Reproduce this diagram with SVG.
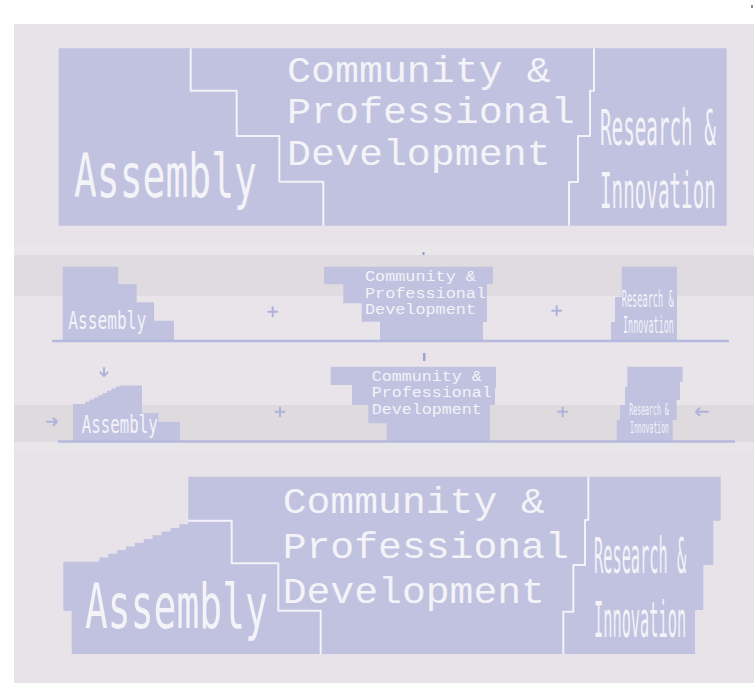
<svg xmlns="http://www.w3.org/2000/svg" width="754" height="683" viewBox="0 0 754 683">
  <style>
    .blk { fill: #c0c2e0; }
    .div { fill: none; stroke: #f3f2f8; stroke-width: 2; stroke-linejoin: round; }
    .nar { font-family: "DejaVu Sans Mono", monospace; fill: #f3f3f8; }
    .mono { font-family: "Liberation Mono", "DejaVu Sans Mono", monospace; fill: #f3f3f8; }
    .base { stroke: #b6b9df; stroke-width: 2.5; }
    .sym { fill: none; stroke: #aeb2dc; stroke-width: 2; stroke-linecap: round; stroke-linejoin: round; }
  </style>

  <!-- page and backdrop -->
  <rect x="0" y="0" width="754" height="683" fill="#ffffff"/>
  <rect x="14" y="24" width="740" height="659" fill="#e7e3e8"/>
  <rect x="14" y="245" width="740" height="10" fill="#eae7eb"/>
  <rect x="14" y="255" width="740" height="41" fill="#dfdbe0"/>
  <rect x="14" y="296" width="740" height="110" fill="#e8e4e9"/>
  <rect x="14" y="405" width="740" height="37" fill="#dedade"/>
  <rect x="14" y="442" width="740" height="11" fill="#e9e6ea"/>
  <rect x="751" y="5" width="2" height="3" fill="#8a8a96"/>

  <!-- ===== top panel ===== -->
  <g id="top-assembly">
    <polygon class="blk" points="58.7,48.3 190.7,48.3 190.7,90.7 236.7,90.7 236.7,136 279.3,136 279.3,181.7 323.3,181.7 323.3,225.7 58.7,225.7"/>
    <text class="nar" font-size="60" transform="translate(74,196.7) scale(0.633,1)">Assembly</text>
  </g>
  <g id="top-community">
    <polygon class="blk" points="190.7,48.3 594,48.3 594,90.7 590,90.7 590,136 578,136 578,182 569,182 569,225.7 323.3,225.7 323.3,181.7 279.3,181.7 279.3,136 236.7,136 236.7,90.7 190.7,90.7"/>
    <text class="mono" font-size="37" transform="translate(287,81.5) scale(1.08,1)">Community &amp;</text>
    <text class="mono" font-size="37" transform="translate(287,122.5) scale(1.08,1)">Professional</text>
    <text class="mono" font-size="37" transform="translate(287,165) scale(1.08,1)">Development</text>
  </g>
  <g id="top-research">
    <polygon class="blk" points="594,48.3 726.7,48.3 726.7,225.7 569,225.7 569,182 578,182 578,136 590,136 590,90.7 594,90.7"/>
    <text class="nar" font-size="50" transform="translate(600,145) scale(0.385,1)">Research &amp;</text>
    <text class="nar" font-size="50" transform="translate(600,208.3) scale(0.385,1)">Innovation</text>
  </g>

  <!-- ===== row 1 ===== -->
  <g id="row1-assembly">
    <polygon class="blk" points="62.7,266.7 118.3,266.7 118.3,284.3 136.7,284.3 136.7,302.3 154,302.3 154,320.7 174,320.7 174,340 62.7,340"/>
    <text class="nar" font-size="24" transform="translate(68.3,329) scale(0.675,1)">Assembly</text>
  </g>
  <g id="row1-community">
    <polygon class="blk" points="324,266.7 493,266.7 493,284.3 487,284.3 487,322 483,322 483,340 380,340 380,321.7 361.7,321.7 361.7,303.3 343.3,303.3 343.3,284.3 324,284.3"/>
    <text class="mono" font-size="14.5" transform="translate(365,281) scale(1.16,1)">Community &amp;</text>
    <text class="mono" font-size="14.5" transform="translate(365,297.7) scale(1.16,1)">Professional</text>
    <text class="mono" font-size="14.5" transform="translate(365,314.3) scale(1.16,1)">Development</text>
  </g>
  <g id="row1-research">
    <polygon class="blk" points="621.7,266.7 677,266.7 677,340 611,340 611,322 615,322 615,297 621.7,297"/>
    <text class="nar" font-size="23" transform="translate(621.7,306.7) scale(0.375,1)">Research &amp;</text>
    <text class="nar" font-size="23" transform="translate(623,333) scale(0.368,1)">Innovation</text>
  </g>

  <!-- ===== row 2 ===== -->
  <g id="row2-assembly">
    <polygon class="blk" points="73,441 73,404 85,404 85,401.8 89.4,401.8 89.4,399.6 93.8,399.6 93.8,397.4 98.2,397.4 98.2,395.2 102.6,395.2 102.6,393 107,393 107,390.8 111.4,390.8 111.4,388.6 115.8,388.6 115.8,386.4 120,386.4 120,385.5 142,385.5 142,413 158.3,413 158.3,422 180,422 180,441"/>
    <text class="nar" font-size="25" transform="translate(81.7,433.3) scale(0.631,1)">Assembly</text>
  </g>
  <g id="row2-community">
    <polygon class="blk" points="330.7,366.7 496,366.7 496,388 495,388 495,405 490,405 490,441 386.7,441 386.7,423.3 368.3,423.3 368.3,405 352,405 352,385 330.7,385"/>
    <text class="mono" font-size="14.5" transform="translate(371.7,380.7) scale(1.15,1)">Community &amp;</text>
    <text class="mono" font-size="14.5" transform="translate(371.7,397.2) scale(1.15,1)">Professional</text>
    <text class="mono" font-size="14.5" transform="translate(371.7,414) scale(1.15,1)">Development</text>
  </g>
  <g id="row2-research">
    <polygon class="blk" points="627.3,366.7 682.7,366.7 682.7,381.7 680,381.7 680,400 676.7,400 676.7,420 672.7,420 672.7,441 616.7,441 616.7,420 620,420 620,405 625,405 625,386.7 627.3,386.7"/>
    <text class="nar" font-size="15" transform="translate(629.3,415) scale(0.437,1)">Research &amp;</text>
    <text class="nar" font-size="15" transform="translate(630,433.3) scale(0.432,1)">Innovation</text>
  </g>

  <!-- ===== bottom panel ===== -->
  <g id="bottom-assembly">
    <polygon class="blk" points="63.3,561.7 99.3,561.7 99.3,557.5 108.2,557.5 108.2,553.8 117.1,553.8 117.1,550.1 126,550.1 126,546.4 134.9,546.4 134.9,542.7 143.8,542.7 143.8,539 152.7,539 152.7,535.3 161.6,535.3 161.6,531.6 170.5,531.6 170.5,527.9 179.4,527.9 179.4,524.2 188.3,524.2 188.3,520.7 231.7,520.7 231.7,563.3 278.3,563.3 278.3,610.7 320.7,610.7 320.7,654 71.7,654 71.7,610.7 63.3,610.7"/>
    <text class="nar" font-size="62" transform="translate(85,628.3) scale(0.613,1)">Assembly</text>
  </g>
  <g id="bottom-community">
    <polygon class="blk" points="188.3,476.7 588.3,476.7 588.3,520 585,520 585,565 573.3,565 573.3,611.7 563.3,611.7 563.3,654 320.7,654 320.7,610.7 278.3,610.7 278.3,563.3 231.7,563.3 231.7,520.7 188.3,520.7"/>
    <text class="mono" font-size="37" transform="translate(282.7,513.3) scale(1.074,1)">Community &amp;</text>
    <text class="mono" font-size="37" transform="translate(282.7,558.3) scale(1.074,1)">Professional</text>
    <text class="mono" font-size="37" transform="translate(282.7,603.3) scale(1.074,1)">Development</text>
  </g>
  <g id="bottom-research">
    <polygon class="blk" points="588.3,476.7 720.7,476.7 720.7,520.7 713.3,520.7 713.3,565 703.3,565 703.3,610 695,610 695,654 563.3,654 563.3,611.7 573.3,611.7 573.3,565 585,565 585,520 588.3,520"/>
    <text class="nar" font-size="50" transform="translate(594,573.3) scale(0.306,1)">Research &amp;</text>
    <text class="nar" font-size="50" transform="translate(594,636.7) scale(0.306,1)">Innovation</text>
  </g>

  <!-- white seams between the blocks -->
  <g id="dividers">
    <polyline class="div" points="190.7,48.3 190.7,90.7 236.7,90.7 236.7,136 279.3,136 279.3,181.7 323.3,181.7 323.3,225.7"/>
    <polyline class="div" points="594,48.3 594,90.7 590,90.7 590,136 578,136 578,182 569,182 569,225.7"/>
    <polyline class="div" points="188.3,520.7 231.7,520.7 231.7,563.3 278.3,563.3 278.3,610.7 320.7,610.7 320.7,654"/>
    <polyline class="div" points="588.3,476.7 588.3,520 585,520 585,565 573.3,565 573.3,611.7 563.3,611.7 563.3,654"/>
  </g>

  <!-- connectors: ground lines, plus signs, arrows -->
  <g id="connectors">
    <line class="base" x1="52" y1="341" x2="729" y2="341"/>
    <line class="base" x1="58" y1="441.5" x2="735" y2="441.5"/>
    <path class="sym" d="M268.2,311.7 H277.2 M272.7,307.2 V316.2"/>
    <path class="sym" d="M552.2,310.7 H561.2 M556.7,306.2 V315.2"/>
    <path class="sym" d="M275.5,411.7 H284.5 M280,407.2 V416.2"/>
    <path class="sym" d="M558.2,411.7 H567.2 M562.7,407.2 V416.2"/>
    <path class="sym" d="M104,368 V376 M100.5,372.5 L104,376 L107.5,372.5"/>
    <path class="sym" d="M47,421.7 H57 M53.5,418.2 L57,421.7 L53.5,425.2"/>
    <path class="sym" d="M708,411.7 H696 M699.5,408.2 L696,411.7 L699.5,415.2"/>
    <rect x="422.5" y="252" width="2" height="3" fill="#9498c8"/>
    <rect x="423" y="353" width="2.5" height="8" fill="#9ea2d6"/>
  </g>
</svg>
